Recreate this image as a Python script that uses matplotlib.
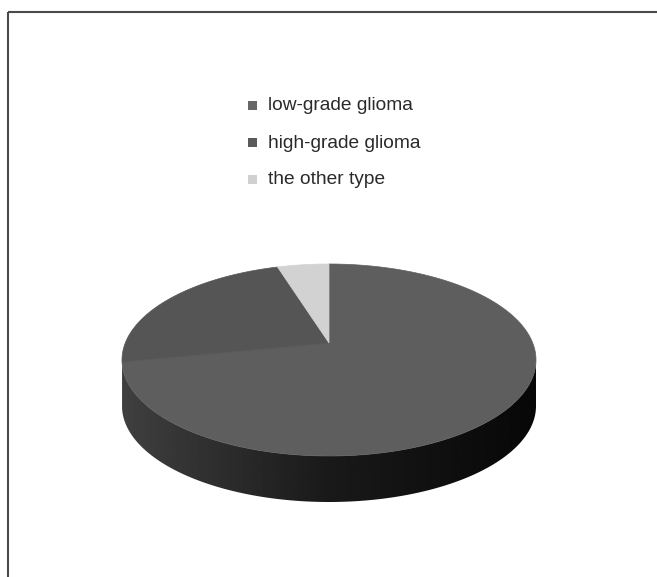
import numpy as np
import matplotlib
matplotlib.use("Agg")
import matplotlib.pyplot as plt
from matplotlib.patches import Polygon, Rectangle

# Data
labels = ["low-grade glioma", "high-grade glioma", "the other type"]
counts = [56, 16, 3]
top_colors = ["#5e5e5e", "#555555", "#d2d2d2"]
legend_colors = ["#676767", "#5a5a5a", "#d0d0d0"]

# pie geometry in pixel coordinates (y grows downward)
cx, cy = 329.0, 360.0
rx, ry = 207.0, 96.0
tip = (329.0, 343.0)
depth = 46.0

plt.rcParams['font.family'] = ['Liberation Sans', 'DejaVu Sans']

fig = plt.figure(figsize=(6.57, 5.77), dpi=100)
ax = fig.add_axes([0, 0, 1, 1])
ax.set_xlim(0, 657)
ax.set_ylim(577, 0)
ax.axis('off')


def ellipse_pts(t0, t1, dy=0.0, n=200):
    t = np.radians(np.linspace(t0, t1, n))
    return np.column_stack([cx + rx * np.cos(t), cy - ry * np.sin(t) + dy])


# slice angles, clockwise from 12 o'clock
fracs = np.array(counts) / np.sum(counts)
ends = 90 - np.cumsum(fracs) * 360
starts = np.concatenate([[90], ends[:-1]])

# side gradient image (dark to the right)
u = np.linspace(0, 1, 400)
shade = np.interp(u, [0, 0.5, 1], [0.25, 0.10, 0.03])
grad = np.tile(shade, (2, 1))

# sides first
for s, e in zip(starts, ends):
    lo, hi = min(s, e), max(s, e)
    for f0, f1 in [(-180, 0), (180, 360), (540, 720)]:
        a, b = max(lo, f0), min(hi, f1)
        if b <= a:
            continue
        top = ellipse_pts(a, b)
        bot = ellipse_pts(b, a, dy=depth)
        poly = Polygon(np.vstack([top, bot]), closed=True, facecolor='none',
                       edgecolor='none')
        ax.add_patch(poly)
        im = ax.imshow(grad, cmap='gray', vmin=0, vmax=1, aspect='auto',
                       extent=[cx - rx, cx + rx, cy + ry + depth, cy - ry],
                       interpolation='bilinear', zorder=1)
        im.set_clip_path(poly)

# top face
for s, e, c in zip(starts, ends, top_colors):
    arc = ellipse_pts(s, e)
    ax.add_patch(Polygon(np.vstack([[tip], arc]), closed=True, facecolor=c,
                         edgecolor=c, lw=0.5, zorder=2))

# legend
for i, (lab, c) in enumerate(zip(labels, legend_colors)):
    y = 105 + i * 37
    ax.add_patch(Rectangle((248, y - 4.5), 9, 9, facecolor=c, edgecolor='none'))
    ax.text(268, y + 1, lab, fontsize=13.8, color='#2a2a2a', va='center',
            ha='left')

# frame (only top and left edges fall inside the image)
ax.add_patch(Rectangle((8, 12), 800, 800, facecolor='none',
                       edgecolor='#4a4a4a', lw=1.5, zorder=5))

fig.savefig('out.png', dpi=100)
